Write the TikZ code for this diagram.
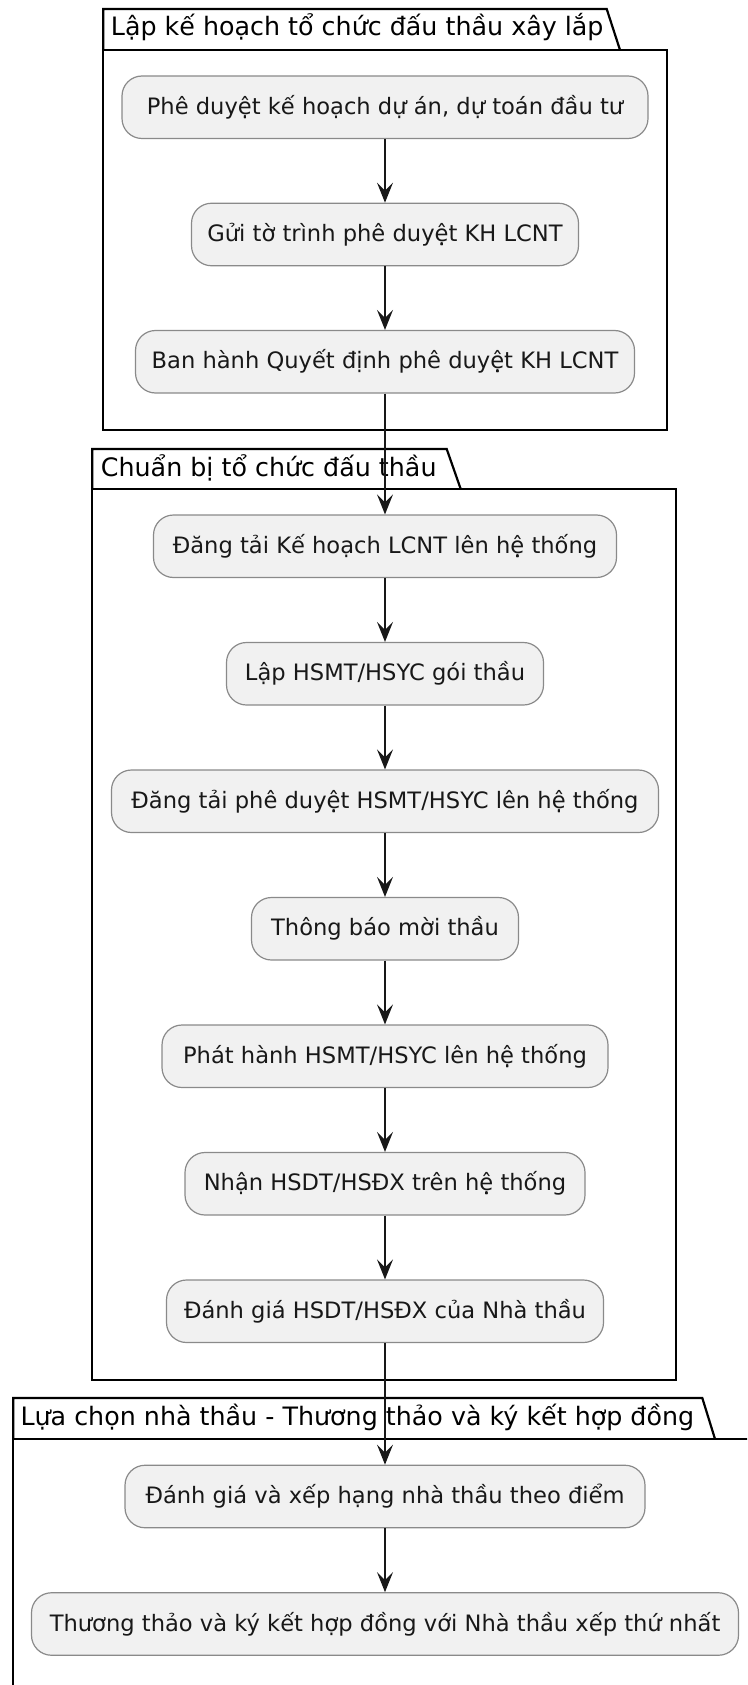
\documentclass[tikz,border=0pt]{standalone}
\usepackage{fontspec}
\setmainfont{DejaVu Sans}
\usetikzlibrary{arrows.meta}

\definecolor{actfill}{HTML}{F1F1F1}
\definecolor{actline}{HTML}{181818}
\definecolor{actborder}{HTML}{8A8A8A}

\tikzset{
  act/.style={draw=actborder, line width=1.2pt, fill=actfill,
    rounded corners=20pt, minimum height=62.5pt, inner xsep=0pt, inner ysep=0pt,
    text=actline, font=\fontsize{22.6}{27}\selectfont, anchor=center},
  flow/.style={draw=actline, line width=1.6pt,
    -{Stealth[length=20pt,width=16pt,inset=8pt]}},
  pkgline/.style={draw=black, line width=2.2pt, line join=miter},
  pkgtitle/.style={anchor=base west, inner sep=0pt, text=black,
    font=\fontsize{25.35}{30}\selectfont}
}

\begin{document}
\begin{tikzpicture}[x=1pt, y=-1pt]
\useasboundingbox (0,0) rectangle (747,1685);
\clip (0,0) rectangle (747,1685);

% package frames: tab with slanted edge, then the body
\draw[pkgline] (103.3,50) -- (103.3,9) -- (606.7,9) -- (620,50);
\draw[pkgline] (103.3,50) rectangle (666.7,430);
\node[pkgtitle] (t1) at (110.7,36) {Lập kế hoạch tổ chức đấu thầu xây lắp};

\draw[pkgline] (92.3,489) -- (92.3,449) -- (446.7,449) -- (460.7,489);
\draw[pkgline] (92.3,489) rectangle (675.8,1380);
\node[pkgtitle] (t2) at (100.7,476) {Chuẩn bị tổ chức đấu thầu};

\draw[pkgline] (13.3,1439) -- (13.3,1398) -- (702.3,1398) -- (715,1439);
\draw[pkgline] (13.3,1439) rectangle (770,1720);
\node[pkgtitle] (t3) at (20.3,1425) {Lựa chọn nhà thầu - Thương thảo và ký kết hợp đồng};

% activities
\node[act, minimum width=526pt] (n1)  at (385,107.25) {Phê duyệt kế hoạch dự án, dự toán đầu tư};
\node[act, minimum width=387pt] (n2)  at (385,234.5)  {Gửi tờ trình phê duyệt KH LCNT};
\node[act, minimum width=499pt] (n3)  at (385,361.75) {Ban hành Quyết định phê duyệt KH LCNT};

\node[act, minimum width=463pt] (n4)  at (385,546.25) {Đăng tải Kế hoạch LCNT lên hệ thống};
\node[act, minimum width=317pt] (n5)  at (385,673.75) {Lập HSMT/HSYC gói thầu};
\node[act, minimum width=547pt] (n6)  at (385,801.25) {Đăng tải phê duyệt HSMT/HSYC lên hệ thống};
\node[act, minimum width=267pt] (n7)  at (385,928.75) {Thông báo mời thầu};
\node[act, minimum width=446pt] (n8)  at (385,1056.25) {Phát hành HSMT/HSYC lên hệ thống};
\node[act, minimum width=400pt] (n9)  at (385,1183.75) {Nhận HSDT/HSĐX trên hệ thống};
\node[act, minimum width=437pt] (n10) at (385,1311.25) {Đánh giá HSDT/HSĐX của Nhà thầu};

\node[act, minimum width=520pt] (n11) at (385,1496.5) {Đánh giá và xếp hạng nhà thầu theo điểm};
\node[act, minimum width=707pt] (n12) at (385,1624)   {Thương thảo và ký kết hợp đồng với Nhà thầu xếp thứ nhất};

% control flow
\foreach \a/\b in {n1/n2, n2/n3, n3/n4, n4/n5, n5/n6, n6/n7, n7/n8, n8/n9, n9/n10, n10/n11, n11/n12}
  \draw[flow] (\a) -- (\b);
\end{tikzpicture}
\end{document}
